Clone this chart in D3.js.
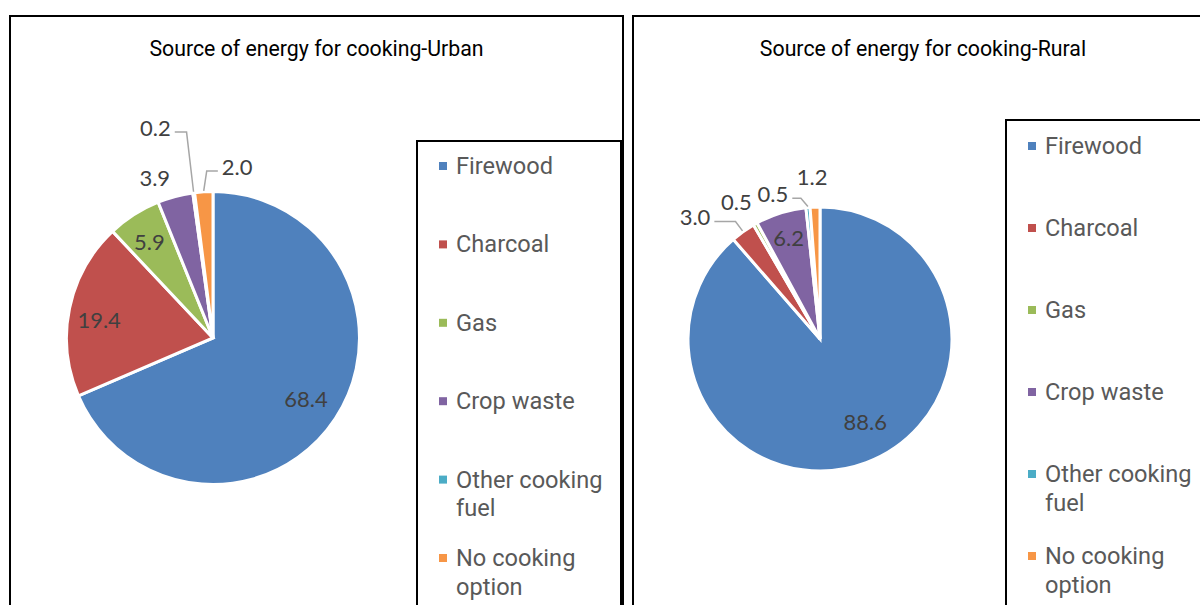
<!DOCTYPE html>
<meta charset="utf-8">
<script src="https://d3js.org/d3.v7.min.js"></script>
<style>
  body { margin: 0; background: #fff; }
</style>
<div id="my_dataviz"></div>
<script>

// data
var categories = ["Firewood", "Charcoal", "Gas", "Crop waste", "Other cooking fuel", "No cooking option"];
var urbanValues = [68.4, 19.4, 5.9, 3.9, 0.2, 2.0];
var ruralValues = [88.6, 3.0, 0.5, 6.2, 0.5, 1.2];
var titles = ["Source of energy for cooking-Urban", "Source of energy for cooking-Rural"];
var colors = ["#4F81BD", "#C0504D", "#9BBB59", "#8064A2", "#4BACC6", "#F79646"];

// layout of each panel (k = label radius factor, dx/dy = nudge like Excel's manual moves)
var panels = [
  { title: titles[0], values: urbanValues,
    frame: [10, 16, 623, 640], cx: 213, cy: 338, r: 146.5,
    legend: { x: 417, y: 141, w: 204, first: 25, step: 78.4 },
    labels: [ {k: 0.76}, {k: 0.78, dx: -2, dy: 5}, {k: 0.78, dx: -2},
              {k: 1.17, dx: -14, dy: 6}, {k: 1.17, dx: -35, dy: -40, leader: true},
              {k: 1.17, dx: 35, leader: true} ] },
  { title: titles[1], values: ruralValues,
    frame: [633, 16, 1213, 640], cx: 820, cy: 339, r: 132,
    legend: { x: 1006, y: 120, w: 240, first: 26, step: 82 },
    labels: [ {k: 0.72, dx: 12, dy: -6}, {k: 1.17, dx: -35, dy: 4, leader: true},
              {k: 1.17, dx: -8, dy: -2}, {k: 0.8},
              {k: 1.17, dx: -33, dy: 9, leader: true}, {k: 1.17, dx: -2, dy: -8} ] }
];

var svg = d3.select("#my_dataviz")
  .append("svg")
    .attr("width", 1200)
    .attr("height", 605);

var color = d3.scaleOrdinal().domain(categories).range(colors);
var fmt = d3.format(".1f");

panels.forEach(function(p) {
  var f = p.frame;
  // panel frame
  svg.append("rect")
    .attr("x", f[0]).attr("y", f[1])
    .attr("width", f[2] - f[0]).attr("height", f[3] - f[1])
    .attr("fill", "none").attr("stroke", "#000").attr("stroke-width", 2);

  svg.append("text")
    .attr("x", (f[0] + f[2]) / 2)
    .attr("y", 56)
    .attr("text-anchor", "middle")
    .style("font-family", "Roboto")
    .style("font-size", "21.3px")
    .attr("fill", "#000")
    .text(p.title);

  var pie = d3.pie().sort(null).value(function(d) { return d; });
  var arcs = pie(p.values);
  var arc = d3.arc().innerRadius(0).outerRadius(p.r);

  var g = svg.append("g").attr("transform", "translate(" + p.cx + "," + p.cy + ")");

  g.selectAll("path")
    .data(arcs)
    .enter()
    .append("path")
      .attr("d", arc)
      .attr("fill", function(d, i) { return color(categories[i]); })
      .attr("stroke", "#fff")
      .attr("stroke-width", 3)
      .attr("stroke-linejoin", "miter");

  // data labels
  arcs.forEach(function(d, i) {
    var L = p.labels[i];
    var mid = (d.startAngle + d.endAngle) / 2;
    var ux = Math.sin(mid), uy = -Math.cos(mid);
    var lx = ux * p.r * L.k + (L.dx || 0);
    var ly = uy * p.r * L.k + (L.dy || 0);
    var t = g.append("text")
      .attr("x", lx).attr("y", ly)
      .attr("text-anchor", "middle")
      .attr("dy", "0.36em")
      .style("font-family", "Lato")
      .style("font-size", "22px")
      .attr("fill", "#404040")
      .text(fmt(d.data));
    if (L.leader) {
      var hw = t.node().getComputedTextLength() / 2;
      var ex = ux * (p.r + 1), ey = uy * (p.r + 1);
      var yl = ly + 4, sx, bx;
      if (lx < ex) { sx = lx + hw + 4; bx = ex - 7; }
      else { sx = lx - hw - 4; bx = ex + 3; }
      g.append("polyline")
        .attr("points", [[sx, yl], [bx, yl], [ex, ey]].map(function(q) { return q.join(","); }).join(" "))
        .attr("fill", "none")
        .attr("stroke", "#A6A6A6")
        .attr("stroke-width", 1.5);
    }
  });

  // legend
  var lg = p.legend;
  svg.append("rect")
    .attr("x", lg.x).attr("y", lg.y)
    .attr("width", lg.w).attr("height", 640 - lg.y)
    .attr("fill", "#fff").attr("stroke", "#000").attr("stroke-width", 2);

  categories.forEach(function(c, i) {
    var cy = lg.y + lg.first + i * lg.step;
    svg.append("rect")
      .attr("x", lg.x + 22).attr("y", cy - 4)
      .attr("width", 8).attr("height", 8)
      .attr("fill", color(c));
    var t = svg.append("text")
      .attr("x", lg.x + 39)
      .attr("y", cy + 8)
      .style("font-family", "Roboto")
      .style("font-size", "23.6px")
      .attr("fill", "#595959");
    // simple word wrap
    var words = c.split(" "), line = [];
    var tsp = t.append("tspan").attr("x", lg.x + 39).attr("dy", 0);
    words.forEach(function(w) {
      line.push(w);
      tsp.text(line.join(" "));
      if (tsp.node().getComputedTextLength() > 160 && line.length > 1) {
        line.pop();
        tsp.text(line.join(" "));
        line = [w];
        tsp = t.append("tspan").attr("x", lg.x + 39).attr("dy", 28.5).text(w);
      }
    });
  });
});

</script>
